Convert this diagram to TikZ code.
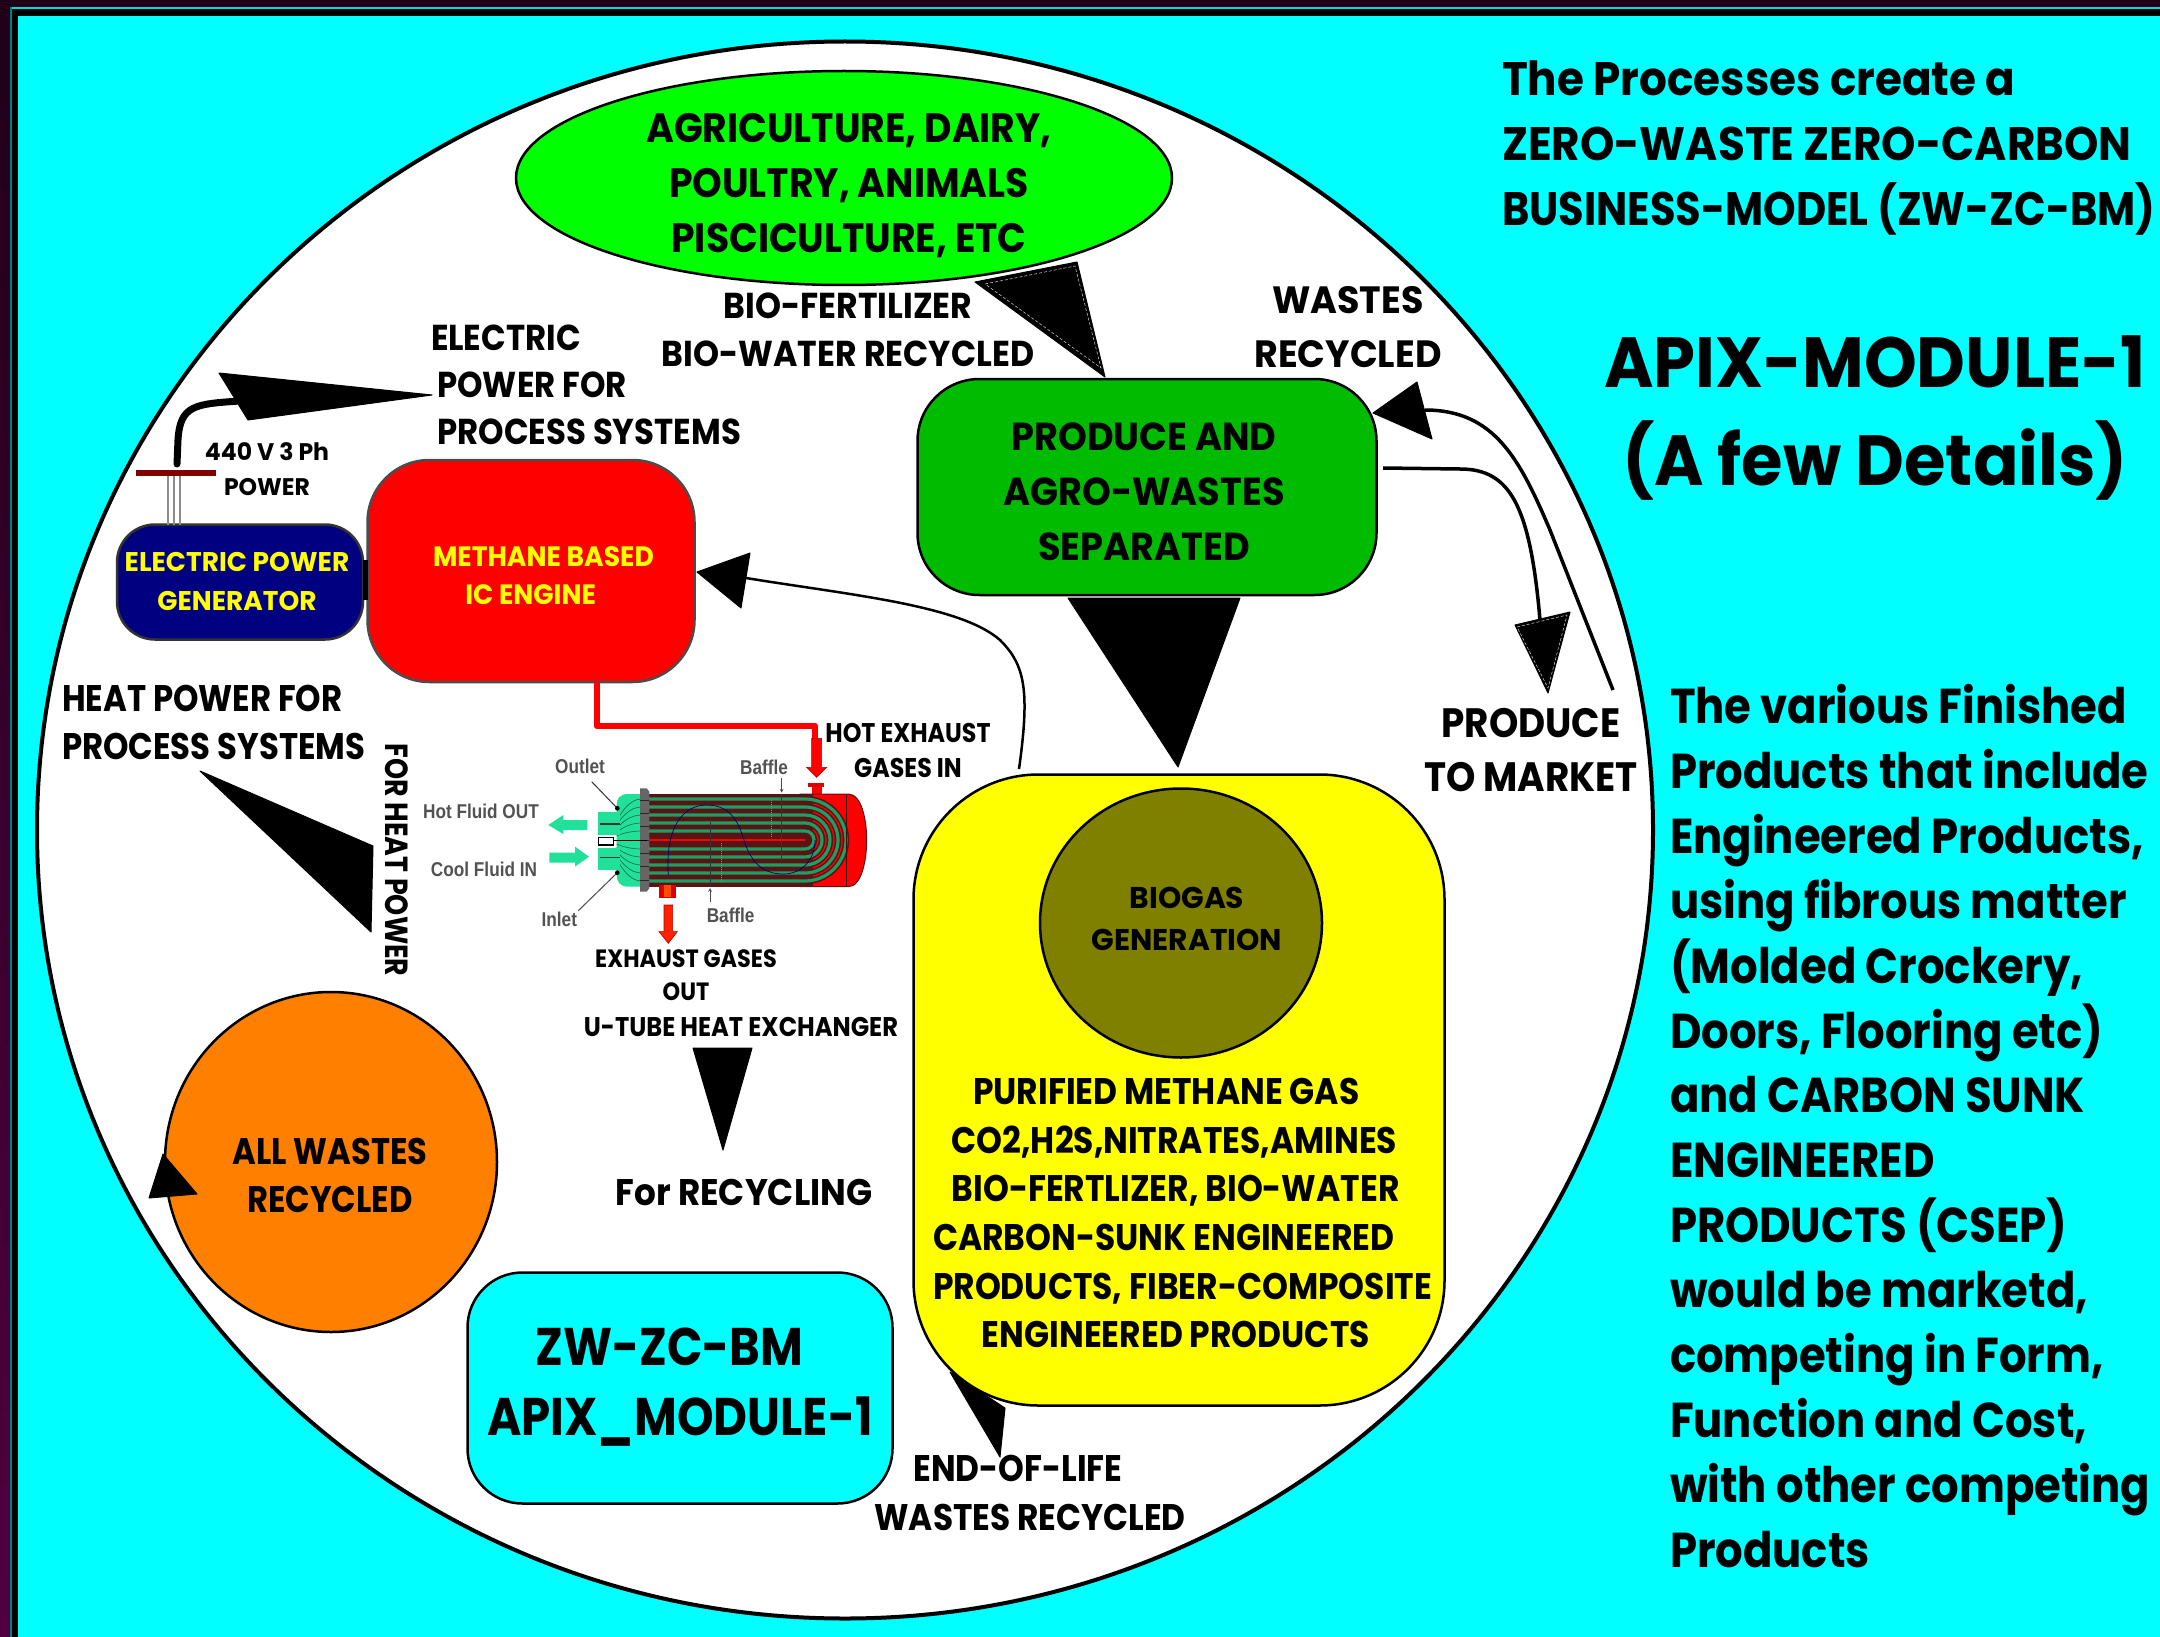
\documentclass[tikz,border=0pt]{standalone}
\usepackage{fontspec}
\setmainfont{Poppins}
\newfontfamily\arl{Liberation Sans}
\usetikzlibrary{shapes.geometric}
\definecolor{bgcyan}{RGB}{0,255,255}
\definecolor{purpA}{RGB}{32,0,24}
\definecolor{purpB}{RGB}{80,0,64}
\definecolor{hxg}{RGB}{32,224,154}
\definecolor{hxt}{RGB}{30,158,100}
\definecolor{hxd}{RGB}{90,20,20}
\definecolor{cYellow}{RGB}{255,255,0}
\definecolor{cGreen}{RGB}{0,255,0}
\definecolor{cProd}{RGB}{0,187,0}
\definecolor{cOlive}{RGB}{128,128,0}
\definecolor{cRed}{RGB}{255,0,0}
\definecolor{cNavy}{RGB}{0,0,128}
\definecolor{cOrange}{RGB}{255,128,0}
\newcommand\fz[2]{\fontsize{#1}{#2}\selectfont\bfseries}
\tikzset{
  lbl/.style={inner sep=0pt,outer sep=0pt,text=black,align=center},
  lblL/.style={inner sep=0pt,outer sep=0pt,text=black,align=left,anchor=west},
  gry/.style={inner sep=0pt,text=black!68,font=\arl\fontsize{20}{24}\selectfont\bfseries,xscale=.86},
  shapebox/.style={rectangle,draw=black,line width=2.5pt,inner sep=0pt},
  oval/.style={ellipse,draw=black,line width=2.5pt,inner sep=0pt},
  wedge/.style={fill=black,draw=black,line width=1pt,line join=round},
  wdash/.style={draw=white!85!black,line width=.5pt,dash pattern=on 3pt off 2pt},
  conn/.style={draw=black,line width=3.5pt},
}
\begin{document}
\begin{tikzpicture}[x=1pt,y=-1pt]
\useasboundingbox (0,0) rectangle (2160,1637);
% frame
\fill[purpA] (0,0) rectangle (2160,1637);
\shade[top color=purpA,bottom color=purpB] (0,0) rectangle (10,1637);
\fill[black] (10,7) rectangle (2160,1637);
\fill[bgcyan!85!black] (10,7) rectangle (2160,9);
\fill[teal] (10,7) rectangle (12,1637);
\fill[black] (12,9) rectangle (2160,1637);
\fill[bgcyan] (18,16) rectangle (2160,1637);
% main disc
\node[oval,fill=white,line width=4pt,minimum width=1616pt,minimum height=1577pt] (disc) at (845,830) {};
% boxes
\node[oval,fill=cGreen,minimum width=656pt,minimum height=214pt] (agri) at (844,178) {};
\node[shapebox,fill=cProd,rounded corners=62pt,minimum width=459pt,minimum height=216pt] (produce) at (1147,487) {};
\node[shapebox,fill=cYellow,rounded corners=125pt,minimum width=531pt,minimum height=631pt] (yellowbox) at (1179,1090) {};
\node[oval,fill=cOlive,minimum width=282pt,minimum height=269pt] (biogas) at (1181,923) {};
\node[shapebox,fill=cRed,draw=black!70,rounded corners=62pt,minimum width=327pt,minimum height=222pt] (engine) at (531,571) {};
\node[shapebox,fill=cNavy,draw=black!80,rounded corners=38pt,minimum width=246pt,minimum height=115pt] (generator) at (240,582) {};
\node[oval,fill=cOrange,minimum width=332pt,minimum height=340pt] (wastes) at (331,1162) {};
\node[shapebox,fill=bgcyan,rounded corners=55pt,minimum width=425pt,minimum height=231pt] (zwbox) at (680,1388) {};
% coupling generator - engine
\fill[black] (363,560) rectangle (368,600);
% electrical take-off
\coordinate (busL) at (136,473);
\coordinate (busR) at (216,473);
\coordinate (busM) at (174,473);
\coordinate (genTop) at (174,525);
\foreach \dx in {-6,0,6} \draw[black!45,line width=1.2pt] ([xshift=\dx pt]busM) -- ([xshift=\dx pt]genTop);
\draw[cRed!50!black,line width=6pt] (busL) -- (busR);
\coordinate (elecA) at (177,464);
\coordinate (elecB) at (240,401);
\draw[black,line width=7pt,line cap=round] (elecA) -- (178,440) .. controls (180,405) and (195,404) .. (elecB);
\fill[wedge] (432,395) -- (219,373) -- (248,420) -- cycle;
% connectors to / from produce
\fill[wedge] (975,282) -- (1077,262) -- (1105,377) -- cycle;
\draw[wdash] (985,284) -- (1075,266) -- (1101,368) -- cycle;
\fill[wedge] (1068,598) -- (1240,598) -- (1178,767) -- cycle;
\coordinate (wasteA) at (1613,690);
\coordinate (wasteB) at (1425,410);
\draw[conn] (wasteA) -- (1550,530) .. controls (1520,460) and (1495,410) .. (wasteB);
\fill[wedge] (1373,413) -- (1417,382) -- (1432,439) -- cycle;
\coordinate (mktA) at (1383,468);
\coordinate (mktB) at (1540,620);
\draw[conn] (mktA) -- (1460,469) .. controls (1510,469) and (1530,505) .. (mktB);
\fill[wedge] (1515,625) -- (1570,612) -- (1548,693) -- cycle;
\draw[wdash] (1517,627) -- (1567,615) -- (1548,688) -- cycle;
% gas return
\coordinate (gasA) at (1019,769);
\coordinate (gasB) at (746,578);
\draw[black,line width=2.5pt] (gasA) .. controls (1030,690) and (1025,665) .. (1000,640) .. controls (960,605) and (850,595) .. (gasB);
\fill[wedge] (697,572) -- (750,553) -- (741,608) -- cycle;
% others
\fill[wedge] (200,771) -- (373,846) -- (371,932) -- cycle;
\fill[wedge] (163,1154) -- (149,1198) -- (197,1194) -- cycle;
\fill[wedge] (693,1048) -- (752,1048) -- (723,1150) -- cycle;
\fill[wedge] (950,1372) -- (1005,1408) -- (1000,1457) -- cycle;
% hot exhaust pipe
\draw[cRed,line width=6.5pt,line join=round] (597,682) -- (597,726) -- (815,726) -- (815,745);
% heat exchanger (drawn in zoom coordinates)
\begin{scope}[shift={(500,680)},x=.33333pt,y=-.33333pt]
  \fill[cRed!85!black] (925,310) rectangle (972,322);
  \fill[cRed] (935,320) rectangle (965,345);
  \fill[cRed,draw=hxd,line width=1pt] (900,342) -- (1045,342) .. controls (1085,342) and (1100,420) .. (1100,480) .. controls (1100,540) and (1085,620) .. (1045,620) -- (900,620) -- cycle;
  \fill[hxd] (445,342) rectangle (940,620);
  \foreach \r in {27,51,75,99,123}{
    \draw[hxd,line width=6.5pt] (445,480-\r) -- (915,480-\r) .. controls ({915+.55*\r},480-\r) and ({915+\r},{480-.55*\r}) .. ({915+\r},480) .. controls ({915+\r},{480+.55*\r}) and ({915+.55*\r},480+\r) .. (915,480+\r) -- (445,480+\r);}
  \foreach \r in {27,51,75,99,123}{
    \draw[hxt,line width=3.2pt] (445,480-\r) -- (915,480-\r) .. controls ({915+.55*\r},480-\r) and ({915+\r},{480-.55*\r}) .. ({915+\r},480) .. controls ({915+\r},{480+.55*\r}) and ({915+.55*\r},480+\r) .. (915,480+\r) -- (445,480+\r);}
  \draw[cRed,line width=2pt] (445,480) -- (915,480);
  \draw[hxd!70!black,line width=1pt] (1040,345) -- (1040,617);
  % baffles
  \draw[black!80,line width=.8pt] (845,342) -- (845,540);
  \draw[black!80,line width=.8pt] (632,425) -- (632,620);
  \draw[black!45,line width=1pt,dash pattern=on 1pt off 1pt] (815,360) -- (815,470);
  \draw[black!45,line width=1pt,dash pattern=on 1pt off 1pt] (665,490) -- (665,610);
  \draw[cNavy!80!black,line width=.7pt] (505,585) .. controls (495,440) and (550,375) .. (620,375) .. controls (700,375) and (720,440) .. (735,490) .. controls (760,560) and (800,582) .. (850,582) .. controls (905,582) and (945,540) .. (945,480);
  % front head
  \fill[hxg] (425,342) -- (385,342) .. controls (360,342) and (350,355) .. (350,375) -- (350,585) .. controls (350,605) and (360,620) .. (385,620) -- (425,620) -- cycle;
  \foreach \r in {27,51,75,99,123}{
    \draw[hxt!75!black,line width=.7pt] (425,480-\r) .. controls (390,480-\r) and (365,{480-\r*.7}) .. (350,{480-\r*.45});
    \draw[hxt!75!black,line width=.7pt] (425,480+\r) .. controls (390,480+\r) and (365,{480+\r*.7}) .. (350,{480+\r*.45});}
  \fill[black!60] (420,325) -- (440,325) -- (448,335) -- (448,625) -- (440,635) -- (420,635) -- cycle;
  \foreach \yy in {360,400,440,480,520,560,600} \draw[black!85,line width=.6pt] (420,\yy) -- (448,\yy);
  % stubs
  \fill[hxg] (295,395) rectangle (360,465);
  \fill[hxg] (295,505) rectangle (360,570);
  \draw[black!80,line width=1.2pt] (300,432) -- (360,432);
  \draw[black!80,line width=1.2pt] (300,533) -- (360,533);
  \draw[black,line width=1.2pt] (295,472) rectangle (340,495);
  \draw[black,line width=1.2pt] (340,482) -- (440,482);
  % nozzle out
  \fill[cRed!85!black] (478,615) rectangle (528,655);
  \fill[cOrange!60!cRed] (492,615) rectangle (514,652);
  % side arrows
  \fill[hxg] (262,420) -- (190,420) -- (190,405) -- (145,435) -- (190,462) -- (190,450) -- (262,450) -- cycle;
  \fill[hxg] (148,518) -- (225,518) -- (225,500) -- (267,530) -- (225,560) -- (225,548) -- (148,548) -- cycle;
  % flow arrows
  \fill[cRed,draw=cRed!70!black,line width=.6pt] (935,175) -- (965,175) -- (965,262) -- (980,262) -- (950,292) -- (920,262) -- (935,262) -- cycle;
  \fill[cOrange!25!cRed,draw=cRed!70!black,line width=.6pt] (492,675) -- (518,675) -- (518,755) -- (532,755) -- (505,790) -- (477,755) -- (492,755) -- cycle;
  % leaders
  \draw[black!80,line width=1pt] (275,305) -- (352,385);
  \fill[black] (352,385) circle[radius=7];
  \draw[black!70,line width=1pt] (235,692) -- (352,578);
  \fill[black] (352,578) circle[radius=7];
  \draw[black!70,line width=.7pt,-stealth] (845,295) -- (845,338);
  \draw[black!70,line width=.7pt,-stealth] (630,665) -- (630,624);
  % labels
  \node[gry] (lOutlet) at (240,258) {Outlet};
  \node[gry] (lInlet) at (178,718) {Inlet};
  \node[gry] (lBaffleA) at (792,262) {Baffle};
  \node[gry] (lBaffleB) at (692,705) {Baffle};
\end{scope}
\node[gry] (lHot) at (481,811) {Hot Fluid OUT};
\node[gry] (lCool) at (484,869) {Cool Fluid IN};
% texts
\node[lbl,font=\fz{41}{55},xscale=.92] (tAgri) at (849,186) {AGRICULTURE, DAIRY,\\POULTRY, ANIMALS\\PISCICULTURE, ETC};
\node[lbl,font=\fz{36}{48},xscale=.92] (tBio) at (848,330) {BIO-FERTILIZER\\BIO-WATER RECYCLED};
\node[lblL,font=\fz{36}{47},xscale=.90] (tElec) at (431,385) {ELECTRIC\\\hspace*{7pt}POWER FOR\\\hspace*{7pt}PROCESS SYSTEMS};
\node[lbl,font=\fz{24}{35},xscale=.98] (t440) at (267,469) {440 V 3 Ph\\POWER};
\node[lbl,font=\fz{27}{39},xscale=.98,text=cYellow] (tGen) at (237,581) {ELECTRIC POWER\\GENERATOR};
\node[lblL,font=\fz{28}{38},xscale=.95,text=cYellow] (tEng) at (433,576) {METHANE BASED\\\hspace*{34pt}IC ENGINE};
\node[lbl,font=\fz{38}{54},xscale=.96] (tWaste) at (1348,327) {WASTES\\RECYCLED};
\node[lbl,font=\fz{39}{55},xscale=.94] (tProd) at (1144,492) {PRODUCE AND\\AGRO-WASTES\\SEPARATED};
\node[lbl,font=\fz{41}{54},xscale=.91] (tMkt) at (1531,750) {PRODUCE\\TO MARKET};
\node[lblL,font=\fz{37}{48},xscale=.875] (tHeat) at (62,722) {HEAT POWER FOR\\PROCESS SYSTEMS};
\node[lbl,font=\fz{32}{36},rotate=-90,xscale=.84] (tFor) at (397,860) {FOR HEAT POWER};
\node[lbl,font=\fz{27}{35},xscale=.88] (tHotIn) at (908,750) {HOT EXHAUST\\GASES IN};
\node[lbl,font=\fz{25}{33},xscale=.895] (tExOut) at (686,975) {EXHAUST GASES\\OUT};
\node[lbl,font=\fz{27}{33},xscale=.895] (tUtube) at (741,1027) {U-TUBE HEAT EXCHANGER};
\node[lbl,font=\fz{37}{44},xscale=.925] (tRecyc) at (744,1193) {For RECYCLING};
\node[lbl,font=\fz{30}{42},xscale=.99] (tBiogas) at (1187,919) {BIOGAS\\GENERATION};
\node[lblL,font=\fz{37}{48.7},xscale=.89] (tPur) at (933,1213) {\hspace*{45pt}PURIFIED METHANE GAS\\\hspace*{21pt}CO2,H2S,NITRATES,AMINES\\\hspace*{21pt}BIO-FERTLIZER, BIO-WATER\\CARBON-SUNK ENGINEERED\\PRODUCTS, FIBER-COMPOSITE\\\hspace*{55pt}ENGINEERED PRODUCTS};
\node[lbl,font=\fz{37}{48},xscale=.87] (tAll) at (330,1175) {ALL WASTES\\RECYCLED};
\node[lbl,font=\fz{53}{70},xscale=.88] (tZw) at (680,1387) {\hspace*{-24pt}ZW-ZC-BM\\APIX\_MODULE-1};
\node[lbl,font=\fz{37}{49},xscale=.886] (tEnd) at (1030,1493) {\hspace*{-27pt}END-OF-LIFE\\WASTES RECYCLED};
\node[lblL,font=\fz{47}{65},xscale=.93] (tTop) at (1502,148) {The Processes create a\\ZERO-WASTE ZERO-CARBON\\\scalebox{.95}[1]{BUSINESS-MODEL (ZW-ZC-BM)}};
\node[lbl,font=\fz{71}{98},xscale=.946] (tTitle) at (1875,418) {APIX-MODULE-1\\(A few Details)};
\node[lblL,font=\fz{49}{64.9},xscale=.885] (tBody) at (1670,1126) {The various Finished\\Products that include\\Engineered Products,\\using fibrous matter\\(Molded Crockery,\\Doors, Flooring etc)\\and CARBON SUNK\\ENGINEERED\\PRODUCTS (CSEP)\\would be marketd,\\competing in Form,\\Function and Cost,\\with other competing\\Products};
\end{tikzpicture}
\end{document}
